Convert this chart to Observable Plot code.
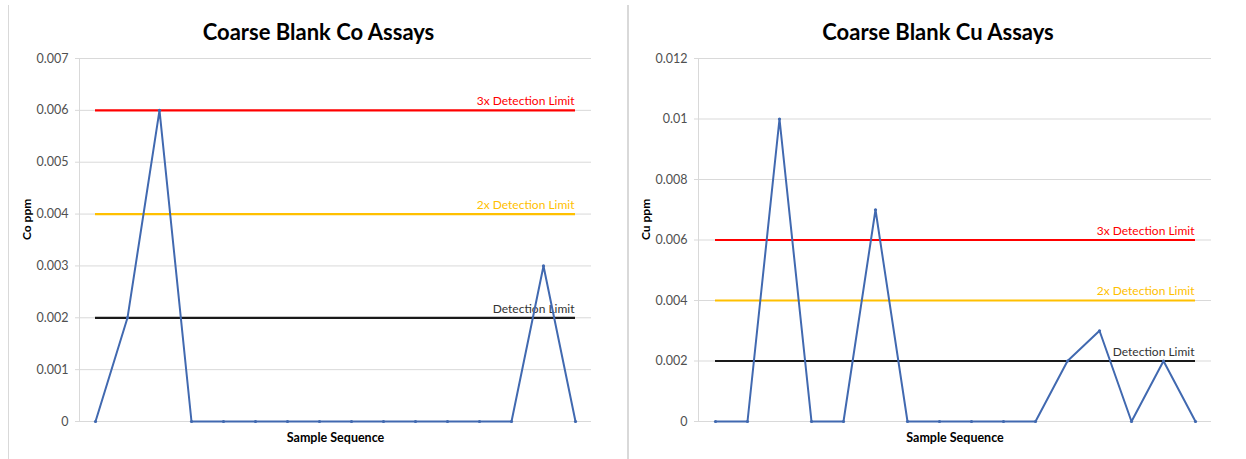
<!DOCTYPE html>
<html>
<head>
<meta charset="utf-8">
<script src="https://cdn.jsdelivr.net/npm/d3@7"></script>
<script src="https://cdn.jsdelivr.net/npm/@observablehq/plot@0.6"></script>
<style>
  html, body { margin: 0; padding: 0; background: #fff; }
  #wrap { position: relative; width: 1246px; height: 459px; overflow: hidden; }
  .chart { position: absolute; top: 0; }
  .border { position: absolute; background: #d9d9d9; }
</style>
</head>
<body>
<div id="wrap">
  <div class="border" style="left:8px; top:5px; width:1px; height:454px;"></div>
  <div class="border" style="left:627px; top:5px; width:2px; height:454px;"></div>
</div>
<script>
// ---- data ----
const sampleSeq = [1, 2, 3, 4, 5, 6, 7, 8, 9, 10, 11, 12, 13, 14, 15, 16];
const coValues = [0, 0.002, 0.006, 0, 0, 0, 0, 0, 0, 0, 0, 0, 0, 0, 0.003, 0];
const cuValues = [0, 0, 0.01, 0, 0, 0.007, 0, 0, 0, 0, 0, 0.002, 0.003, 0, 0.002, 0];
const limitNames = ["Detection Limit", "2x Detection Limit", "3x Detection Limit"];
const limitValues = [0.002, 0.004, 0.006];
const coTicks = [0, 0.001, 0.002, 0.003, 0.004, 0.005, 0.006, 0.007];
const cuTicks = [0, 0.002, 0.004, 0.006, 0.008, 0.01, 0.012];
const titles = ["Coarse Blank Co Assays", "Coarse Blank Cu Assays"];
const yLabels = ["Co ppm", "Cu ppm"];
const xLabel = "Sample Sequence";

// ---- styles ----
const limitColors = ["#1a1a1a", "#ffc000", "#ff0000"];
const limitTextColors = ["#333333", "#ffc000", "#ff0000"];
const seriesColor = "#4169b0";
const font = "Lato, 'Open Sans', sans-serif";

function makeChart(values, ticks, title, yLabel, width, marginLeft, marginRight) {
  const data = sampleSeq.map((s, i) => ({s, v: values[i]}));
  const limits = limitValues.map((v, i) => ({name: limitNames[i], v, i}));
  const first = sampleSeq[0], last = sampleSeq[sampleSeq.length - 1];
  return Plot.plot({
    width, height: 459,
    marginLeft, marginRight, marginTop: 58, marginBottom: 38,
    style: {fontFamily: font, fontSize: "12.5px", color: "#595959", background: "#fff"},
    x: {type: "point", domain: sampleSeq, padding: 0.5},
    y: {domain: [0, ticks[ticks.length - 1]]},
    marks: [
      Plot.ruleY(ticks, {stroke: "#d9d9d9", strokeWidth: 1}),
      Plot.axisY({ticks, tickSize: 4, tickPadding: 7, stroke: "#d9d9d9", tickFormat: d => String(d), label: null, fill: "#505050"}),
      Plot.axisX({ticks: [], label: null}),
      Plot.frame({anchor: "left", stroke: "#d9d9d9"}),
      Plot.ruleY(limits, {y: "v", x1: () => first, x2: () => last, stroke: d => limitColors[d.i], strokeWidth: 2.2}),
      Plot.text(limits, {y: "v", x: () => last, text: "name", textAnchor: "end", dy: -9, dx: -1, fill: d => limitTextColors[d.i], fontSize: 12}),
      Plot.line(data, {x: "s", y: "v", stroke: seriesColor, strokeWidth: 2}),
      Plot.dot(data, {x: "s", y: "v", r: 1.6, fill: seriesColor}),
      Plot.text([title], {frameAnchor: "top", lineAnchor: "middle", dy: -26, dx: -17, fontSize: 22, fontWeight: "bold", fill: "#000"}),
      Plot.text([yLabel], {frameAnchor: "left", lineAnchor: "middle", dx: -52, rotate: -90, fontSize: 12, fontWeight: "bold", fill: "#000"}),
      Plot.text([xLabel], {frameAnchor: "bottom", lineAnchor: "middle", dy: 16, fontSize: 12.5, fontWeight: "bold", fill: "#000"})
    ]
  });
}

const wrap = document.getElementById("wrap");
const c1 = makeChart(coValues, coTicks, titles[0], yLabels[0], 620, 79, 29);
c1.classList.add("chart"); c1.style.left = "0px";
const c2 = makeChart(cuValues, cuTicks, titles[1], yLabels[1], 626, 78, 35);
c2.classList.add("chart"); c2.style.left = "620px";
wrap.insertBefore(c1, wrap.firstChild);
wrap.insertBefore(c2, wrap.firstChild);
</script>
</body>
</html>
